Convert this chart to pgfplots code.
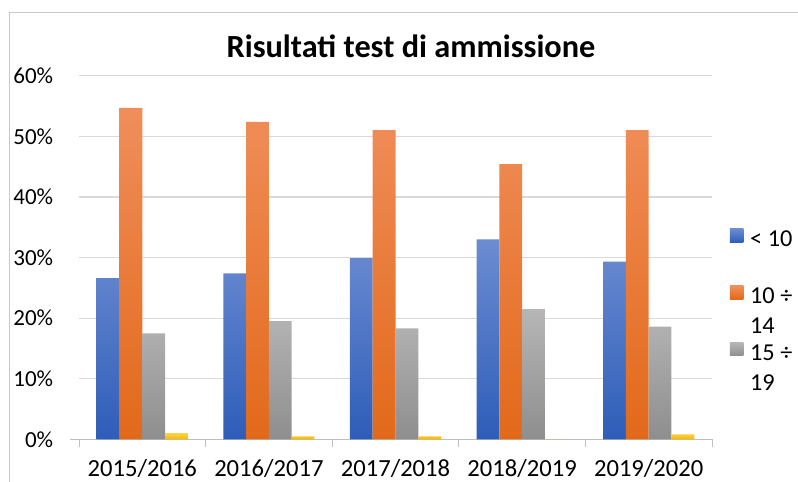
\documentclass[border=0pt]{standalone}
\usepackage{pgfplots}
\pgfplotsset{compat=1.18}
\usepackage{fontspec}
\setmainfont{Carlito}
\definecolor{gridc}{HTML}{D9D9D9}
\definecolor{axisc}{HTML}{BFBFBF}
\definecolor{framec}{HTML}{C8C8C8}
\definecolor{blueT}{HTML}{6C8CD2}
\definecolor{blueB}{HTML}{2E5DB8}
\definecolor{orT}{HTML}{F08E5A}
\definecolor{orB}{HTML}{E2691A}
\definecolor{grT}{HTML}{B6B6B6}
\definecolor{grB}{HTML}{8E8E8E}
\definecolor{yeT}{HTML}{FFD24A}
\definecolor{yeB}{HTML}{F5B800}
\begin{document}
\begin{tikzpicture}
\path[use as bounding box] (0pt,0pt) rectangle (798pt,482pt);
\draw[framec, line width=1pt] (9.5pt,-5pt) -- (9.5pt,469.7pt) -- (805pt,469.7pt);
\node[font=\bfseries\fontsize{32.3}{38}\selectfont, inner sep=0pt] at (411pt,435.5pt) {Risultati test di ammissione};
\begin{axis}[
  at={(79pt,42.7pt)}, anchor=south west, scale only axis,
  width=633pt, height=363.6pt,
  xmin=-0.5, xmax=4.5, ymin=0, ymax=0.6,
  ybar=0pt, bar width=0.18,
  axis x line=bottom, axis y line=left,
  x axis line style={-, draw=axisc, line width=1pt, shorten <=-9pt},
  y axis line style={draw=none},
  xtick={0,1,2,3,4},
  xticklabels={2015/2016,2016/2017,2017/2018,2018/2019,2019/2020},
  minor xtick={-0.5,0.5,1.5,2.5,3.5,4.5},
  major tick length=0pt, minor tick length=7.5pt, tick align=outside,
  minor tick style={draw=axisc, line width=1pt},
  ytick={0,0.1,0.2,0.3,0.4,0.5,0.6},
  yticklabels={0\%,10\%,20\%,30\%,40\%,50\%,60\%},
  ytick style={draw=none},
  ymajorgrids, grid style={draw=gridc, line width=1.2pt},
  xticklabel style={font=\fontsize{24.6}{29}\selectfont, inner sep=0pt, anchor=base, yshift=-37.4pt},
  yticklabel style={font=\fontsize{23}{27}\selectfont, inner sep=0pt, anchor=east, xshift=-25.7pt},
  legend style={draw=none, fill=none, inner sep=0pt, outer sep=0pt,
    at={(rel axis cs:1.0284,0.5784)}, anchor=north west,
    row sep=33.2pt, column sep=6.7pt,
    nodes={inner sep=0pt, text height=16pt, text depth=6pt, font=\fontsize{24.3}{30}\selectfont}},
  legend cell align=left,
  legend image code/.code={\fill[#1] (0pt,-0.8pt) rectangle (13.5pt,12.6pt);},
]
\addplot[draw=none, top color=blueT, bottom color=blueB] coordinates {(0,0.266) (1,0.274) (2,0.299) (3,0.330) (4,0.293)};
\addlegendentry{< 10}
\addplot[draw=none, top color=orT, bottom color=orB] coordinates {(0,0.547) (1,0.524) (2,0.510) (3,0.454) (4,0.510)};
\addlegendentry{\smash{\begin{tabular}[t]{@{}l@{}}10 ÷\\14\end{tabular}}}
\addplot[draw=none, top color=grT, bottom color=grB] coordinates {(0,0.175) (1,0.195) (2,0.183) (3,0.215) (4,0.186)};
\addlegendentry{\smash{\begin{tabular}[t]{@{}l@{}}15 ÷\\19\end{tabular}}}
\addplot[draw=none, top color=yeT, bottom color=yeB] coordinates {(0,0.010) (1,0.005) (2,0.005) (3,0.0) (4,0.008)};
\end{axis}
\end{tikzpicture}
\end{document}
